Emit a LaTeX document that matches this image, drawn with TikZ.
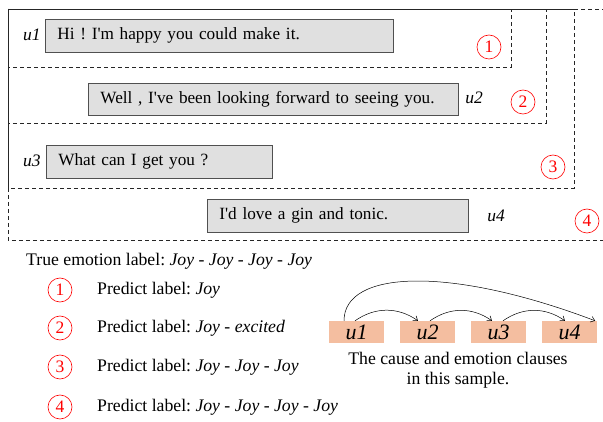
\documentclass[tikz,border=0pt]{standalone}
\usepackage{fontspec}
\setmainfont{Liberation Serif}
\usetikzlibrary{arrows.meta}
\definecolor{boxgray}{RGB}{224,224,224}
\definecolor{boxedge}{RGB}{80,80,80}
\definecolor{salmon}{RGB}{244,190,160}
\newcommand{\apos}{\textquotesingle}
\frenchspacing
\begin{document}
\begin{tikzpicture}[x=1pt,y=-1pt,
  frame/.style={draw=black!85, dash pattern=on 4pt off 3pt, line width=0.7pt},
  utter/.style={draw=boxedge, fill=boxgray, line width=0.8pt, inner xsep=12pt, inner ysep=0pt,
    align=left, anchor=west, minimum height=33pt, font=\fontsize{17.2}{20}\selectfont},
  spk/.style={font=\fontsize{17.5}{20}\selectfont\itshape, inner sep=0pt},
  num/.style={circle, draw=red, text=red, line width=0.6pt, minimum size=24pt, inner sep=0pt,
    font=\fontsize{17.5}{19}\selectfont},
  txt/.style={font=\fontsize{17.7}{20}\selectfont, anchor=west, inner sep=0pt},
  clause/.style={fill=salmon, minimum width=55pt, minimum height=22pt, inner sep=0pt,
    font=\fontsize{22}{24}\selectfont\itshape},
  link/.style={-{Straight Barb[length=4pt,width=6pt]}, line width=0.5pt}]
\useasboundingbox (0,0) rectangle (603,422);

% nested dialogue windows
\draw[frame] (8,9) rectangle (511,67);
\draw[frame] (8,9) rectangle (546,123);
\draw[frame] (8,9) rectangle (574,188);
\draw[frame] (606,9) -- (8,9) -- (8,240) -- (606,240);

% utterances
\node[utter, text width=324pt] (s1) at (45,35.5) {Hi ! I\apos m happy you could make it.};
\node[utter, text width=346pt, minimum height=32pt] (s2) at (88,99) {Well , I\apos ve been looking forward to seeing you.};
\node[utter, text width=202pt] (s3) at (46,161.5) {What can I get you ?};
\node[utter, text width=237pt] (s4) at (207,215.5) {I\apos d love a gin and tonic.};

\node[spk] (l1) at (32,35) {u1};
\node[spk] (l2) at (474,98) {u2};
\node[spk] (l3) at (32,161) {u3};
\node[spk] (l4) at (496,216) {u4};

\node[num] (n1) at (489,47) {1};
\node[num] (n2) at (523,102) {2};
\node[num] (n3) at (553,167) {3};
\node[num] (n4) at (587,221) {4};

% labels
\node[txt] (truth) at (26,261) {True emotion label: \textit{Joy - Joy - Joy - Joy}};
\node[num] (m1) at (60,290) {1};
\node[num] (m2) at (60,328) {2};
\node[num] (m3) at (60,367) {3};
\node[num] (m4) at (60,407) {4};
\node[txt] (p1) at (97,290) {Predict label: \textit{Joy}};
\node[txt] (p2) at (97,328) {Predict label: \textit{Joy - excited}};
\node[txt] (p3) at (97,367) {Predict label: \textit{Joy - Joy - Joy}};
\node[txt] (p4) at (97,407) {Predict label: \textit{Joy - Joy - Joy - Joy}};

% cause and emotion clauses
\node[clause] (c1) at (356.5,332) {u1};
\node[clause] (c2) at (427.5,332) {u2};
\node[clause] (c3) at (498.5,332) {u3};
\node[clause] (c4) at (569.5,332) {u4};

\draw[link] ([xshift=-1.5pt]c1.north) to[bend left=35] ([xshift=-9.5pt]c2.north);
\draw[link] ([xshift=2.5pt]c2.north) to[bend left=35] ([xshift=-6.5pt]c3.north);
\draw[link] ([xshift=4.5pt]c3.north) to[bend left=35] ([xshift=-4.5pt]c4.north);
\draw[link] ([xshift=-12.5pt]c1.north) .. controls +(0,-51) and +(-145,-55) .. ([xshift=-2pt]c4.north east);

\node[align=center, font=\fontsize{17.7}{20}\selectfont, inner sep=0pt] (cap) at (458,370)
  {The cause and emotion clauses\\in this sample.};
\end{tikzpicture}
\end{document}
